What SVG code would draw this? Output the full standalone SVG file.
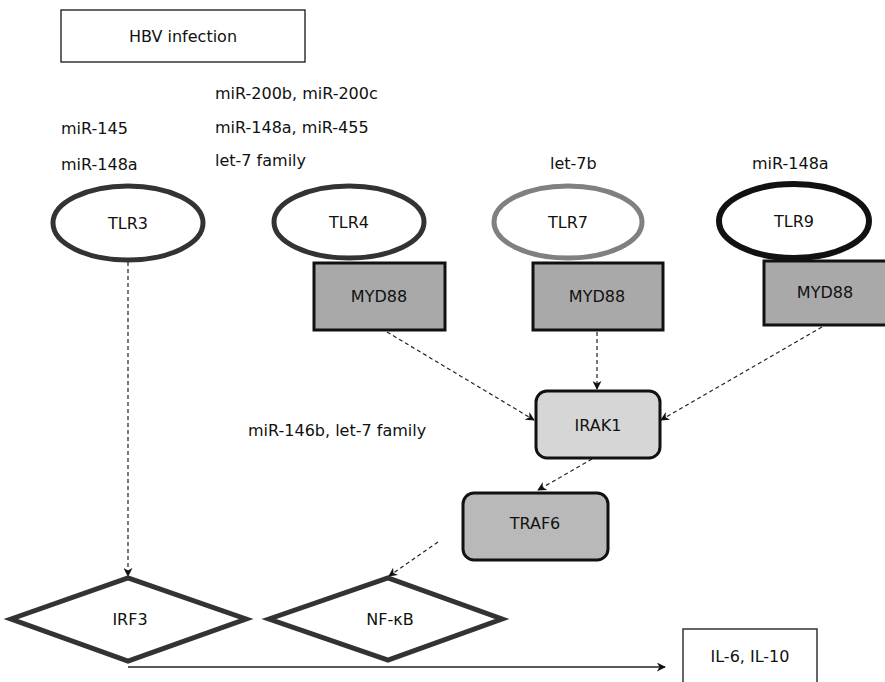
<svg xmlns="http://www.w3.org/2000/svg" width="885" height="682" viewBox="0 0 885 682">
<defs>
<marker id="ah" viewBox="0 0 10 10" refX="9" refY="5" markerWidth="9" markerHeight="9" markerUnits="userSpaceOnUse" orient="auto">
<path d="M0,0 L10,5 L0,10 L3,5 Z" fill="#111"/>
</marker>
</defs>
<style>
text{font-family:"DejaVu Sans","Liberation Sans",sans-serif;font-size:16px;fill:#111}
.c{text-anchor:middle}
.dash{fill:none;stroke:#222;stroke-width:1.2;stroke-dasharray:4 3}
.tlr{fill:#fff;stroke:#333;stroke-width:5}
.my{fill:#a9a9a9;stroke:#111;stroke-width:3}
.dia{fill:#fff;stroke:#333;stroke-width:5;stroke-linejoin:miter}
</style>
<rect width="885" height="682" fill="#fff"/>
<g id="hbv"><rect x="61" y="10" width="244" height="52" fill="#fff" stroke="#333" stroke-width="1.5"/><text class="c" x="183" y="42">HBV infection</text></g>
<g id="labels">
<text x="215" y="99">miR-200b, miR-200c</text>
<text x="61" y="134">miR-145</text>
<text x="215" y="133">miR-148a, miR-455</text>
<text x="61" y="170">miR-148a</text>
<text x="215" y="166">let-7 family</text>
<text x="550" y="169">let-7b</text>
<text x="752" y="169">miR-148a</text>
<text x="248" y="436">miR-146b, let-7 family</text>
</g>
<g id="connectors">
<line class="dash" x1="128" y1="262" x2="128" y2="576" marker-end="url(#ah)"/>
<line class="dash" x1="387" y1="332" x2="534" y2="420" marker-end="url(#ah)"/>
<line class="dash" x1="597" y1="332" x2="597" y2="389" marker-end="url(#ah)"/>
<line class="dash" x1="822" y1="327" x2="661" y2="420" marker-end="url(#ah)"/>
<line class="dash" x1="592" y1="459" x2="538" y2="490" marker-end="url(#ah)"/>
<line class="dash" x1="438" y1="542" x2="389" y2="576" marker-end="url(#ah)"/>
<polyline points="128,667 665,667" fill="none" stroke="#222" stroke-width="1.3" marker-end="url(#ah)"/>
</g>
<g id="tlr3"><ellipse class="tlr" cx="128" cy="223" rx="75" ry="37"/><text class="c" x="128" y="229">TLR3</text></g>
<g id="tlr4"><ellipse class="tlr" cx="349" cy="222" rx="75" ry="36"/><text class="c" x="349" y="228">TLR4</text></g>
<g id="tlr7"><ellipse class="tlr" cx="568" cy="222" rx="74" ry="36" style="stroke:#808080"/><text class="c" x="568" y="228">TLR7</text></g>
<g id="tlr9"><ellipse class="tlr" cx="794" cy="221" rx="75" ry="37" style="stroke:#111;stroke-width:6"/><text class="c" x="794" y="227">TLR9</text></g>
<g id="myd88a"><rect class="my" x="314" y="263" width="131" height="67"/><text class="c" x="379" y="302">MYD88</text></g>
<g id="myd88b"><rect class="my" x="533" y="263" width="130" height="67"/><text class="c" x="597" y="302">MYD88</text></g>
<g id="myd88c"><rect class="my" x="764" y="261" width="130" height="64"/><text class="c" x="825" y="298">MYD88</text></g>
<g id="irak1"><rect x="536" y="391" width="124" height="67" rx="11" fill="#d6d6d6" stroke="#111" stroke-width="3"/><text class="c" x="598" y="431">IRAK1</text></g>
<g id="traf6"><rect x="463" y="493" width="145" height="67" rx="11" fill="#b9b9b9" stroke="#111" stroke-width="3"/><text class="c" x="535" y="529">TRAF6</text></g>
<g id="irf3"><polygon class="dia" points="11,619 128,578 246,619 128,661"/><text class="c" x="130" y="625">IRF3</text></g>
<g id="nfkb"><polygon class="dia" points="269,619 388,578 502,619 388,660"/><text class="c" x="390" y="625">NF-κB</text></g>
<g id="il"><rect x="683" y="629" width="134" height="60" fill="#fff" stroke="#333" stroke-width="1.5"/><text class="c" x="750" y="662">IL-6, IL-10</text></g>
</svg>
